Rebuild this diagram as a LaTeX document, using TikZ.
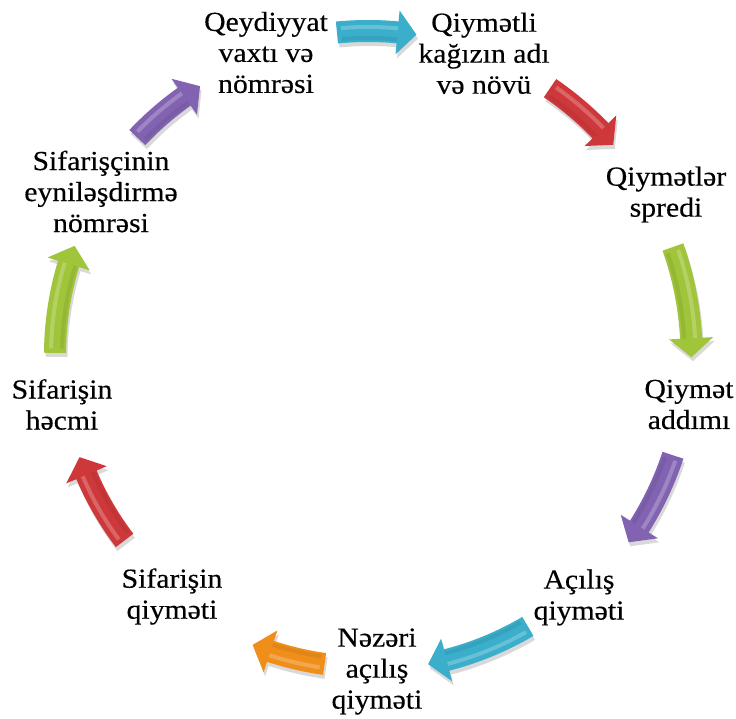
\documentclass[tikz,border=0pt]{standalone}
\usepackage{fontspec}
\setmainfont{Liberation Serif}
\newfontfamily\lblfont{Liberation Serif}[FakeStretch=1.08,FakeBold=0.35]
\definecolor{cAqua}{HTML}{3AAECB}
\definecolor{cRed}{HTML}{CF383B}
\definecolor{cGreen}{HTML}{A0C43A}
\definecolor{cPurple}{HTML}{8263B2}
\definecolor{cOrange}{HTML}{F08E1A}
\newcommand{\arrowshape}[5]{% style, radius, tail angle, tip angle, head-base angle
  \fill[#1] (#3:#2+11pt) arc[start angle=#3, end angle=#5, radius=#2+11pt]
    -- (#5:#2+22pt) -- (#4:#2pt) -- (#5:#2-22pt) -- (#5:#2-11pt)
    arc[start angle=#5, end angle=#3, radius=#2-11pt] -- cycle;}
\newcommand{\cycarrow}[4]{% colour, radius, tail angle, tip angle
  \pgfmathsetmacro{\hbase}{#4+19/#2*57.2958}
  \pgfmathsetmacro{\rr}{#2}
  \pgfmathsetmacro{\hlA}{#3-(#3-#4)/abs(#3-#4)*0.8}
  \begin{scope}[shift={(1.5,-4)}]
    \arrowshape{black,opacity=.15}{\rr}{#3}{#4}{\hbase}
  \end{scope}
  \arrowshape{#1}{\rr}{#3}{#4}{\hbase}
  \draw[#1!75!black, line width=4pt, opacity=.25]
    (\hlA:\rr-7pt) arc[start angle=\hlA, end angle=\hbase, radius=\rr-7pt];
  \draw[#1!55!white, line width=4pt, opacity=.5]
    (\hlA:\rr+4pt) arc[start angle=\hlA, end angle=\hbase, radius=\rr+4pt];
}
\begin{document}
\begin{tikzpicture}[x=1pt,y=1pt,
  lbl/.style={align=center, inner sep=0pt, font=\lblfont\fontsize{27.5}{31}\selectfont}]
\useasboundingbox (0,0) rectangle (736,718);
\fill[white] (0,0) rectangle (736,718);
\begin{scope}[shift={(368,363)}]
  \cycarrow{cAqua}{324}{95.5}{81.4}
  \cycarrow{cRed}{323}{55.7}{40.6}
  \cycarrow{cGreen}{323.5}{19.5}{-0.4}
  \cycarrow{cPurple}{321}{-18.2}{-35.7}
  \cycarrow{cAqua}{315}{-59.5}{-79}
  \cycarrow{cOrange}{312}{-98}{-111.7}
  \cycarrow{cRed}{306}{-142.7}{-160.5}
  \cycarrow{cGreen}{313}{179.6}{159.6}
  \cycarrow{cPurple}{317}{136.7}{122}
\end{scope}
\node[lbl] (n1) at (266,665.5) {Qeydiyyat\\vaxtı və\\nömrəsi};
\node[lbl] (n2) at (484,664.7) {Qiymətli\\kağızın adı\\və növü};
\node[lbl] (n3) at (666,523.5) {Qiymətlər\\spredi};
\node[lbl] (n4) at (689,313.5) {Qiymət\\addımı};
\node[lbl] (n5) at (579,120.5) {Açılış\\qiyməti};
\node[lbl] (n6) at (377,46.5) {Nəzəri\\açılış\\qiyməti};
\node[lbl] (n7) at (172,121.5) {Sifarişin\\qiyməti};
\node[lbl] (n8) at (62,313.5) {Sifarişin\\həcmi};
\node[lbl] (n9) at (101,526.5) {Sifarişçinin\\eyniləşdirmə\\nömrəsi};
\end{tikzpicture}
\end{document}
